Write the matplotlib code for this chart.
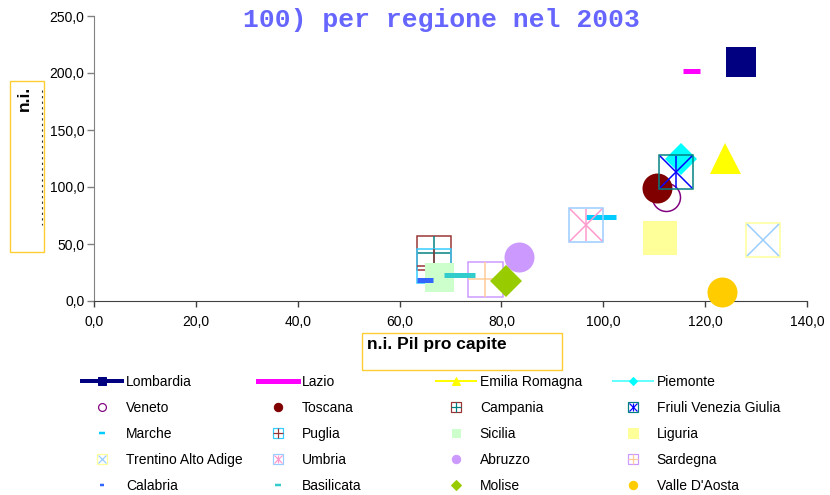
import matplotlib
matplotlib.use("Agg")
import matplotlib.pyplot as plt
from matplotlib.lines import Line2D
from matplotlib.patches import Rectangle
from matplotlib.ticker import FuncFormatter

plt.rcParams['font.family'] = ['Liberation Sans', 'DejaVu Sans']

# data
regions = ['Lombardia', 'Lazio', 'Emilia Romagna', 'Piemonte',
           'Veneto', 'Toscana', 'Campania', 'Friuli Venezia Giulia',
           'Marche', 'Puglia', 'Sicilia', 'Liguria',
           'Trentino Alto Adige', 'Umbria', 'Abruzzo', 'Sardegna',
           'Calabria', 'Basilicata', 'Molise', "Valle D'Aosta"]
pil_pro_capite = [127.0, 117.2, 123.9, 115.3,
                  112.3, 110.5, 66.8, 114.3,
                  99.5, 66.8, 67.7, 111.1,
                  131.4, 96.6, 83.4, 76.8,
                  65.0, 71.7, 80.9, 123.3]
y_values = [209.6, 202.0, 125.4, 124.6,
            91.0, 99.0, 42.0, 113.0,
            73.7, 30.7, 21.0, 55.3,
            53.5, 66.7, 38.6, 19.3,
            18.4, 22.8, 17.5, 7.9]
x_ticks = [0, 20, 40, 60, 80, 100, 120, 140]
y_ticks = [0, 50, 100, 150, 200, 250]

# marker layers: (marker, size px, face, edge, edge width px)
PX = 72 / 100.0
styles = {
    'Lombardia': [('s', 30, '#000080', '#000080', 0)],
    'Lazio': [('_', 17, 'none', '#FF00FF', 5)],
    'Emilia Romagna': [('^', 31, '#FFFF00', '#FFFF00', 0)],
    'Piemonte': [('D', 23, '#00FFFF', '#00FFFF', 0)],
    'Veneto': [('o', 28, 'none', '#800080', 1.5)],
    'Toscana': [('o', 30, '#800000', '#800000', 0)],
    'Campania': [('s', 34, 'none', '#993333', 1.5), ('+', 34, 'none', '#008080', 1.5)],
    'Friuli Venezia Giulia': [('s', 34, 'none', '#008080', 1.5), ('x', 32, 'none', '#0000FF', 1.5),
                              ('|', 32, 'none', '#0000FF', 1.5)],
    'Marche': [('_', 30, 'none', '#00CCFF', 5)],
    'Puglia': [('s', 34, 'none', '#33CCFF', 1.5), ('+', 34, 'none', '#993333', 1.5)],
    'Sicilia': [('s', 29, '#CCFFCC', '#CCFFCC', 0)],
    'Liguria': [('s', 34, '#FFFF99', '#FFFF99', 0)],
    'Trentino Alto Adige': [('s', 34, 'none', '#FFFF99', 1.5), ('x', 32, 'none', '#99CCFF', 1.5)],
    'Umbria': [('s', 34, 'none', '#99CCFF', 1.5), ('x', 32, 'none', '#FF99CC', 1.5),
               ('|', 32, 'none', '#FF99CC', 1.5)],
    'Abruzzo': [('o', 30, '#CC99FF', '#CC99FF', 0)],
    'Sardegna': [('s', 35, 'none', '#CC99FF', 1.5), ('+', 35, 'none', '#FFCC99', 1.5)],
    'Calabria': [('_', 16, 'none', '#3366FF', 5)],
    'Basilicata': [('_', 31, 'none', '#33CCCC', 5)],
    'Molise': [('D', 23, '#99CC00', '#99CC00', 0)],
    "Valle D'Aosta": [('o', 30, '#FFCC00', '#FFCC00', 0)],
}
# first legend row shows a line through the marker
legend_lines = {'Lombardia': ('#000080', 4), 'Lazio': ('#FF00FF', 5),
                'Emilia Romagna': ('#FFFF00', 2), 'Piemonte': ('#66FFFF', 2)}

fig = plt.figure(figsize=(8.3, 4.95), dpi=100)
ax = fig.add_axes([94 / 830, 1 - 301 / 495, (807 - 94) / 830, (301 - 16) / 495])

for z, (name, x, y) in enumerate(zip(regions, pil_pro_capite, y_values)):
    for m, s, fc, ec, lw in styles[name]:
        ax.plot([x], [y], linestyle='none', marker=m, markersize=s * PX,
                markerfacecolor=fc, markeredgecolor=ec, markeredgewidth=lw * PX,
                zorder=3 + z * 0.01, clip_on=False)

ax.set_xlim(0, 140)
ax.set_ylim(0, 250)
ax.set_xticks(x_ticks)
ax.set_yticks(y_ticks)
fmt = FuncFormatter(lambda v, p: ('%.1f' % v).replace('.', ','))
ax.xaxis.set_major_formatter(fmt)
ax.yaxis.set_major_formatter(fmt)
for side in ['top', 'right']:
    ax.spines[side].set_visible(False)
ax.spines['left'].set_color('#808080')
ax.spines['bottom'].set_color('#404040')
ax.tick_params(axis='y', direction='out', length=5, width=1, color='#808080', labelsize=10, pad=2)
ax.tick_params(axis='x', direction='out', length=4, width=1, color='#404040', labelsize=10, pad=6)

# title (only the last line is visible)
fig.text(441 / 830, 1 - 20 / 495, '100) per regione nel 2003', ha='center', va='center',
         fontsize=19, fontweight='bold', color='#6666FF', family=['Liberation Mono', 'DejaVu Sans Mono'])

# axis title boxes
fig.patches.append(Rectangle((10 / 830, 1 - 252 / 495), 34 / 830, 171 / 495, transform=fig.transFigure,
                             fill=False, edgecolor='#FFCC33', linewidth=1))
fig.text(24 / 830, 1 - 98 / 495, 'n.i.', rotation=90, ha='center', va='center',
         fontsize=12.5, fontweight='bold')
fig.lines.append(Line2D([42 / 830, 42 / 830], [1 - 90 / 495, 1 - 225 / 495], transform=fig.transFigure,
                        color='#333333', linewidth=0.8, linestyle=(0, (2, 3))))
fig.patches.append(Rectangle((362 / 830, 1 - 370 / 495), 200 / 830, 37 / 495, transform=fig.transFigure,
                             fill=False, edgecolor='#FFCC33', linewidth=1))
fig.text(367 / 830, 1 - 345 / 495, 'n.i. Pil pro capite', ha='left', va='center',
         fontsize=12.5, fontweight='bold')


def legend_handle(name):
    layers = []
    if name in legend_lines:
        c, w = legend_lines[name]
        layers.append(Line2D([], [], color=c, linewidth=w * PX))
    for m, s, fc, ec, lw in styles[name]:
        k = 0.28
        if m == '_':
            layers.append(Line2D([], [], linestyle='none', marker=m, markersize=max(s * 0.22, 3) * PX,
                                 markeredgecolor=ec, markeredgewidth=2.5 * PX))
        else:
            if name in legend_lines:
                k = 0.24
            layers.append(Line2D([], [], linestyle='none', marker=m, markersize=s * k * PX,
                                 markerfacecolor=fc, markeredgecolor=ec, markeredgewidth=max(lw * 0.8, 1) * PX))
    return tuple(layers)


col_x = [82, 258, 436, 613]
for c in range(4):
    names = regions[c::4]
    fig.legend([legend_handle(n) for n in names], names, loc='upper left',
               bbox_to_anchor=(col_x[c] / 830, 1 - 375 / 495), bbox_transform=fig.transFigure,
               ncol=1, frameon=False, fontsize=10, handlelength=2.9, handletextpad=0.25,
               labelspacing=0.87, borderpad=0, borderaxespad=0)

fig.savefig('out.png', dpi=100)
